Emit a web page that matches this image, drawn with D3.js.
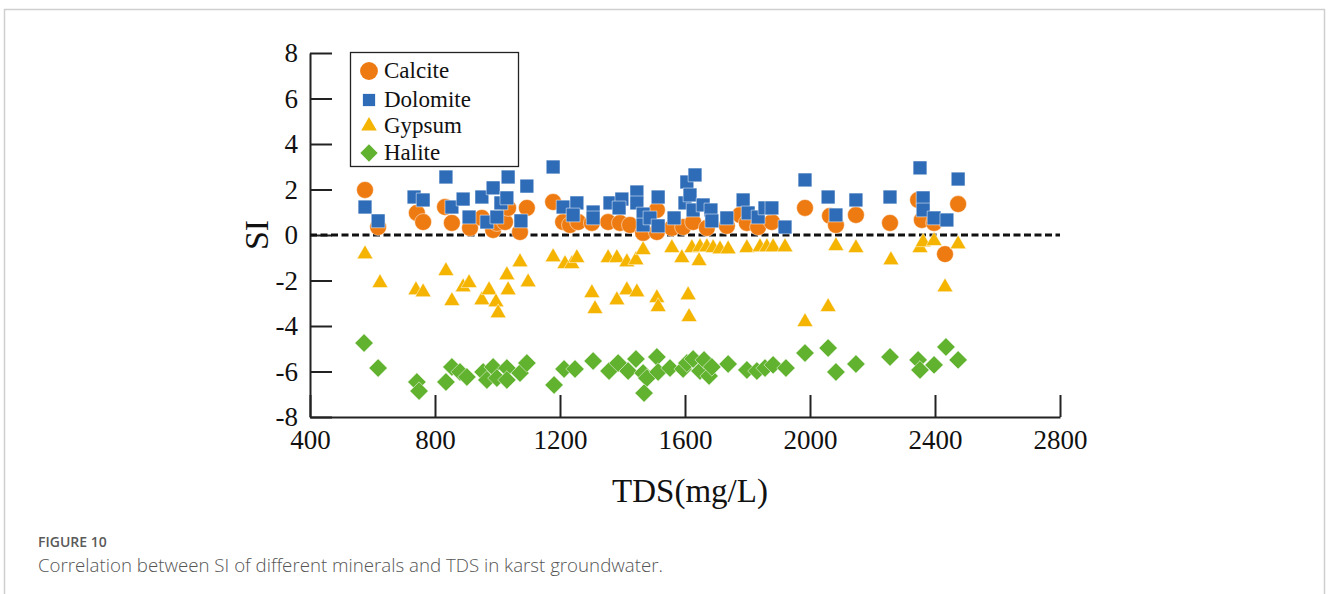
<!DOCTYPE html>
<html lang="en">
	<head>
		<meta charset="utf-8">
		<title>SI of minerals vs TDS</title>
		<script src="https://cdn.jsdelivr.net/npm/d3@7"></script>
		<style>
			body { margin: 0; background: #fff; }
			svg { display: block; }
		</style>
	</head>
	<body>
		<svg></svg>
		<script>
			// [TDS mg/L, SI]
			var calcite = [[576,1.98],[618,0.35],[742,0.97],[762,0.57],[832,1.23],[854,0.53],[912,0.31],[950,0.75],[986,0.22],[998,0.53],[1024,0.57],[1034,1.19],[1072,0.13],[1094,1.19],[1178,1.45],[1210,0.57],[1232,0.44],[1258,0.57],[1302,0.53],[1354,0.57],[1392,0.53],[1424,0.44],[1466,0.09],[1510,1.1],[1510,0.13],[1558,0.31],[1594,0.35],[1626,0.57],[1670,0.31],[1734,0.4],[1776,0.88],[1798,0.53],[1834,0.35],[1878,0.57],[1984,1.19],[2064,0.84],[2083,0.44],[2147,0.88],[2256,0.53],[2346,1.54],[2358,0.66],[2397,0.53],[2432,-0.84],[2474,1.36]];
			var dolomite = [[576,1.23],[618,0.62],[733,1.67],[762,1.54],[835,2.55],[854,1.23],[890,1.58],[909,0.79],[950,1.67],[986,2.07],[966,0.57],[998,0.79],[1011,1.41],[1030,1.63],[1034,2.55],[1094,2.15],[1075,0.62],[1178,2.99],[1210,1.23],[1254,1.41],[1242,0.88],[1306,1.01],[1306,0.75],[1360,1.41],[1398,1.58],[1389,1.19],[1446,1.89],[1446,1.41],[1466,0.92],[1466,0.44],[1514,1.67],[1488,0.75],[1514,0.4],[1565,0.75],[1600,1.41],[1606,2.33],[1632,2.64],[1616,1.76],[1626,1.1],[1658,1.32],[1683,1.1],[1686,0.62],[1734,0.75],[1786,1.54],[1802,0.97],[1834,0.79],[1856,1.19],[1878,1.19],[1920,0.35],[1984,2.42],[2058,1.67],[2083,0.88],[2147,1.54],[2256,1.67],[2352,2.95],[2362,1.63],[2362,1.1],[2397,0.75],[2438,0.66],[2474,2.46]];
			var gypsum = [[576,-0.84],[624,-2.11],[739,-2.42],[762,-2.51],[835,-1.58],[854,-2.9],[890,-2.29],[909,-2.11],[950,-2.86],[973,-2.42],[995,-2.95],[1002,-3.43],[1030,-1.76],[1034,-2.42],[1072,-1.19],[1098,-2.07],[1178,-0.97],[1216,-1.27],[1238,-1.27],[1254,-1.01],[1302,-2.55],[1312,-3.25],[1354,-1.01],[1382,-1.01],[1382,-2.86],[1414,-1.19],[1414,-2.42],[1443,-1.1],[1446,-2.51],[1466,-0.66],[1510,-2.77],[1514,-3.16],[1558,-0.57],[1590,-1.01],[1610,-2.64],[1613,-3.6],[1622,-0.57],[1645,-1.14],[1648,-0.53],[1670,-0.53],[1690,-0.57],[1712,-0.62],[1738,-0.62],[1798,-0.57],[1840,-0.53],[1862,-0.53],[1882,-0.53],[1920,-0.53],[1984,-3.82],[2058,-3.16],[2083,-0.48],[2147,-0.57],[2259,-1.1],[2352,-0.57],[2362,-0.31],[2397,-0.26],[2432,-2.29],[2474,-0.4]];
			var halite = [[573,-4.75],[618,-5.85],[742,-6.46],[749,-6.86],[835,-6.46],[854,-5.8],[880,-6.02],[902,-6.24],[954,-6.02],[966,-6.37],[986,-5.8],[998,-6.29],[1030,-5.85],[1030,-6.37],[1072,-6.07],[1094,-5.63],[1181,-6.59],[1213,-5.89],[1248,-5.89],[1306,-5.54],[1357,-5.98],[1386,-5.63],[1418,-5.98],[1443,-5.45],[1466,-6.07],[1478,-6.29],[1469,-6.95],[1510,-5.36],[1514,-6.02],[1552,-5.85],[1594,-5.89],[1606,-5.63],[1626,-5.45],[1648,-5.98],[1661,-5.49],[1677,-6.2],[1686,-5.8],[1738,-5.67],[1798,-5.93],[1830,-5.98],[1856,-5.85],[1882,-5.71],[1923,-5.85],[1984,-5.19],[2058,-4.97],[2083,-6.02],[2147,-5.67],[2256,-5.36],[2346,-5.49],[2352,-5.93],[2397,-5.71],[2435,-4.92],[2474,-5.49]];

			var seriesNames = ["Calcite", "Dolomite", "Gypsum", "Halite"];
			var seriesColors = ["#ee7b12", "#2e6cb8", "#f4b400", "#61b22f"];
			var xTicks = [400, 800, 1200, 1600, 2000, 2400, 2800];
			var yTicks = [-8, -6, -4, -2, 0, 2, 4, 6, 8];

			var width = 1328, height = 594;
			var serif = "'Liberation Serif', 'Times New Roman', serif";
			var sans = "'Open Sans', 'Noto Sans', sans-serif";

			var svg = d3.select("svg")
				.attr("width", width)
				.attr("height", height);

			// card outline around the figure
			svg.append("rect")
				.attr("x", 4.5).attr("y", 9.5)
				.attr("width", 1320).attr("height", 620)
				.attr("fill", "none")
				.attr("stroke", "#cfcfcf")
				.attr("stroke-width", 1.5);

			var x = d3.scaleLinear().domain([400, 2800]).range([310, 1060]);
			var y = d3.scaleLinear().domain([-8, 8]).range([417, 53]);

			// axes, ticks pointing inward
			svg.append("g")
				.attr("transform", "translate(0," + y(-8) + ")")
				.call(d3.axisBottom(x).tickValues(xTicks).tickSize(-22).tickSizeOuter(0).tickPadding(13)
					.tickFormat(function(d) { return String(d); }));

			svg.append("g")
				.attr("transform", "translate(" + x(400) + ",0)")
				.call(d3.axisLeft(y).tickValues(yTicks).tickSize(-22).tickSizeOuter(0).tickPadding(12)
					.tickFormat(function(d) { return String(d); }));

			svg.selectAll(".domain, .tick line")
				.attr("stroke", "#222")
				.attr("stroke-width", 2);
			svg.selectAll(".tick text")
				.attr("font-family", serif)
				.attr("font-size", 27)
				.attr("fill", "#111");

			// SI = 0 reference line
			svg.append("line")
				.attr("x1", x(400)).attr("x2", x(2800))
				.attr("y1", y(0)).attr("y2", y(0))
				.attr("stroke", "#111")
				.attr("stroke-width", 3)
				.attr("stroke-dasharray", "7,3.5");

			// marker shapes
			var shapes = [
				d3.symbol().type(d3.symbolCircle).size(225),
				d3.symbol().type(d3.symbolSquare).size(190),
				d3.symbol().type(d3.symbolTriangle).size(110),
				d3.symbol().type(d3.symbolSquare).size(170)
			];
			var rotations = [0, 0, 0, 45];

			[calcite, dolomite, gypsum, halite].forEach(function(data, i) {
				svg.append("g")
					.selectAll("path")
					.data(data)
					.enter()
					.append("path")
					.attr("d", shapes[i])
					.attr("transform", function(d) {
						return "translate(" + x(d[0]) + "," + y(d[1]) + ") rotate(" + rotations[i] + ")";
					})
					.attr("fill", seriesColors[i])
					.attr("stroke", "#fff")
					.attr("stroke-width", 0.5);
			});

			// legend
			var legend = svg.append("g");
			legend.append("rect")
				.attr("x", 350.5).attr("y", 52.5)
				.attr("width", 168).attr("height", 114)
				.attr("fill", "#fff")
				.attr("stroke", "#222")
				.attr("stroke-width", 1.3);
			var legendY = [71, 100, 126, 153];
			var legendShapes = [
				d3.symbol().type(d3.symbolCircle).size(250),
				d3.symbol().type(d3.symbolSquare).size(150),
				d3.symbol().type(d3.symbolTriangle).size(105),
				d3.symbol().type(d3.symbolSquare).size(150)
			];
			seriesNames.forEach(function(name, i) {
				legend.append("path")
					.attr("d", legendShapes[i])
					.attr("transform", "translate(369," + legendY[i] + ") rotate(" + rotations[i] + ")")
					.attr("fill", seriesColors[i]);
				legend.append("text")
					.attr("x", 384)
					.attr("y", legendY[i] + 7)
					.attr("font-family", serif)
					.attr("font-size", 23)
					.attr("fill", "#111")
					.text(name);
			});

			// axis titles
			svg.append("text")
				.attr("transform", "translate(268,235) rotate(-90)")
				.attr("text-anchor", "middle")
				.attr("font-family", serif)
				.attr("font-size", 34)
				.attr("fill", "#111")
				.text("SI");
			svg.append("text")
				.attr("x", 690).attr("y", 502)
				.attr("text-anchor", "middle")
				.attr("font-family", serif)
				.attr("font-size", 33)
				.attr("fill", "#111")
				.text("TDS(mg/L)");

			// caption
			svg.append("text")
				.attr("x", 38).attr("y", 547)
				.attr("font-family", sans)
				.attr("font-size", 14)
				.attr("font-weight", 600)
				.attr("fill", "#5a5a5a")
				.text("FIGURE 10");
			svg.append("text")
				.attr("x", 38).attr("y", 572)
				.attr("font-family", sans)
				.attr("font-size", 18.7)
				.attr("font-weight", 300)
				.attr("fill", "#555")
				.text("Correlation between SI of different minerals and TDS in karst groundwater.");
		</script>
	</body>
</html>
